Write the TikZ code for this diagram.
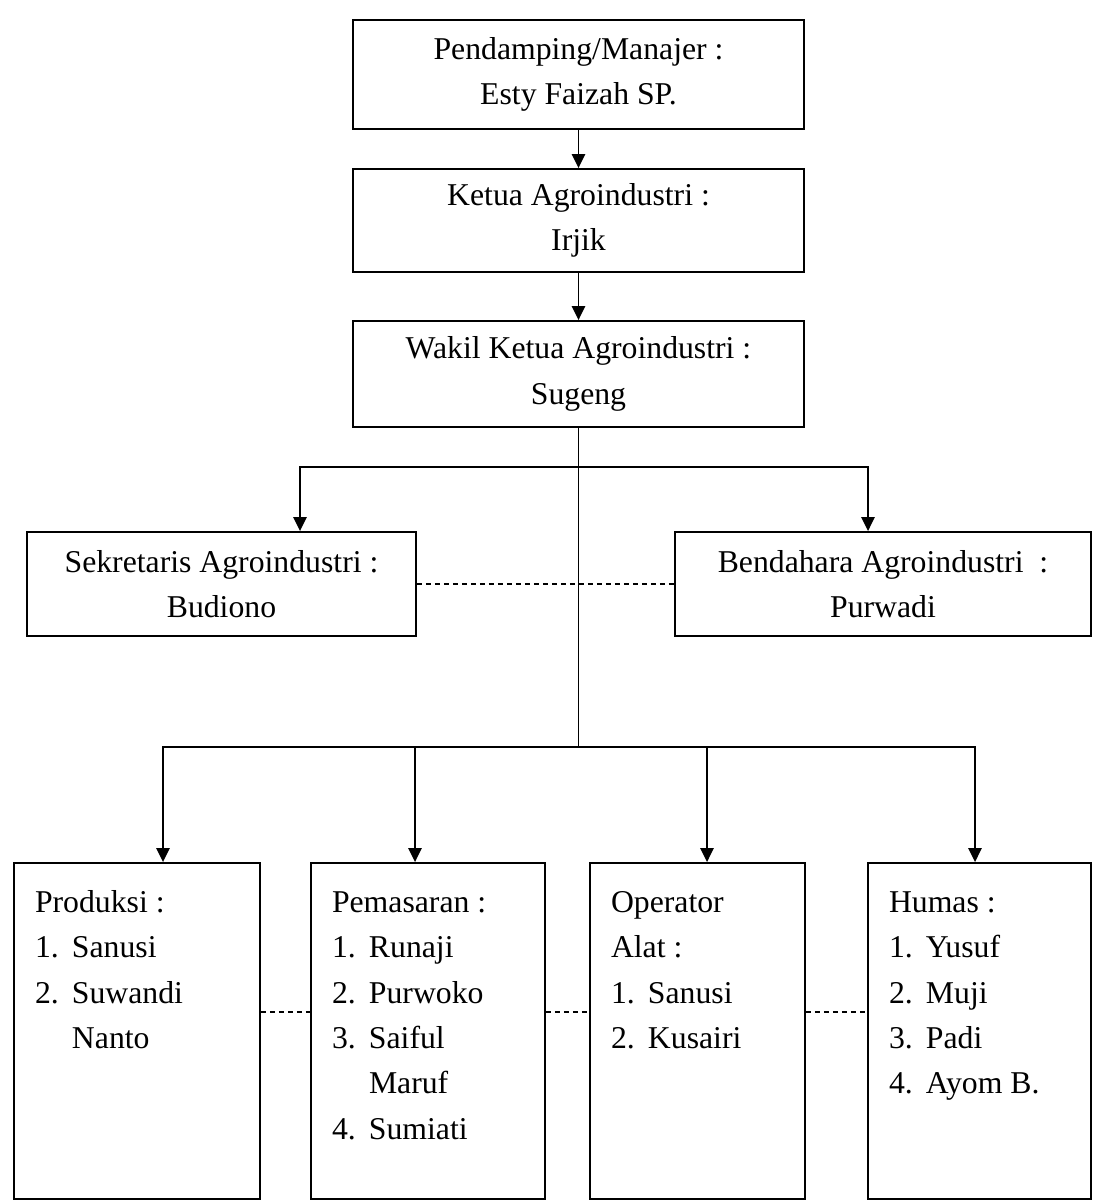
\documentclass[tikz,border=0pt]{standalone}
\usepackage{fontspec}
\setmainfont{Liberation Serif}
\usetikzlibrary{arrows.meta}
\tikzset{
  unit/.style={draw,line width=1.4pt,align=center},
  staff/.style={draw,line width=1.4pt,inner xsep=15.75pt,inner ysep=13.5pt,
    text height=23.5pt,text depth=201.5pt},
  tie/.style={line width=1.1pt},
  down/.style={line width=1.4pt,-{Triangle[length=10.5pt,width=10pt]}},
  link/.style={dashed,dash pattern=on 3.75pt off 3pt,line width=0.9pt}
}
\begin{document}
\begin{tikzpicture}[x=0.75pt,y=-0.75pt,font=\fontsize{23.8}{34}\selectfont]
\useasboundingbox (0,0) rectangle (1096,1202);
\node [unit,minimum width=338.25pt,minimum height=81.75pt] (manajer) at (578.5,74.5)
   {Pendamping/Manajer :\\ Esty Faizah SP.};
\node [unit,minimum width=338.25pt,minimum height=77.25pt] (ketua) at (578.5,220.5)
   {Ketua Agroindustri :\\ Irjik};
\node [unit,minimum width=338.25pt,minimum height=79.5pt] (wakil) at (578.5,374)
   {Wakil Ketua Agroindustri :\\ Sugeng};
\node [unit,minimum width=291.75pt,minimum height=78pt] (sekretaris) at (221.5,584)
   {Sekretaris Agroindustri :\\ Budiono};
\node [unit,minimum width=312pt,minimum height=78pt] (bendahara) at (883,584)
   {Bendahara Agroindustri~ :\\ Purwadi};
\node [staff] (produksi) at (137,1031) {\begin{tabular}[t]{@{}p{27.75pt}@{}p{125.25pt}@{}}
   \multicolumn{2}{@{}l@{}}{Produksi :}\\ 1. & Sanusi\\ 2. & Suwandi\\ & Nanto\end{tabular}};
\node [staff] (pemasaran) at (428,1031) {\begin{tabular}[t]{@{}p{27.75pt}@{}p{116.25pt}@{}}
   \multicolumn{2}{@{}l@{}}{Pemasaran :}\\ 1. & Runaji\\ 2. & Purwoko\\ 3. & Saiful\\
   & Maruf\\ 4. & Sumiati\end{tabular}};
\node [staff] (operator) at (697.5,1031) {\begin{tabular}[t]{@{}p{27.75pt}@{}p{102pt}@{}}
   \multicolumn{2}{@{}l@{}}{Operator}\\ \multicolumn{2}{@{}l@{}}{Alat :}\\ 1. & Sanusi\\
   2. & Kusairi\end{tabular}};
\node [staff] (humas) at (979.5,1031) {\begin{tabular}[t]{@{}p{27.75pt}@{}p{108pt}@{}}
   \multicolumn{2}{@{}l@{}}{Humas :}\\ 1. & Yusuf\\ 2. & Muji\\ 3. & Padi\\
   4. & Ayom B.\end{tabular}};
\coordinate (fork) at (578.5,467);
\coordinate (spread) at (578.5,747);
\draw [down] (manajer) -- (ketua);
\draw [down] (ketua) -- (wakil);
\draw [tie] (wakil) -- (spread);
\draw [down] (fork) -| ([xshift=58.875pt]sekretaris.north);
\draw [down] (fork) -| ([xshift=-11.25pt]bendahara.north);
\draw [down] (spread) -| ([xshift=19.5pt]produksi.north);
\draw [down] (spread) -| ([xshift=-9.75pt]pemasaran.north);
\draw [down] (spread) -| ([xshift=7.125pt]operator.north);
\draw [down] (spread) -| ([xshift=-3.375pt]humas.north);
\draw [link] (sekretaris) -- (bendahara);
\draw [link] ([yshift=14.25pt]produksi.east) -- ([yshift=14.25pt]pemasaran.west);
\draw [link] ([yshift=14.25pt]pemasaran.east) -- ([yshift=14.25pt]operator.west);
\draw [link] ([yshift=14.25pt]operator.east) -- ([yshift=14.25pt]humas.west);
\end{tikzpicture}
\end{document}
